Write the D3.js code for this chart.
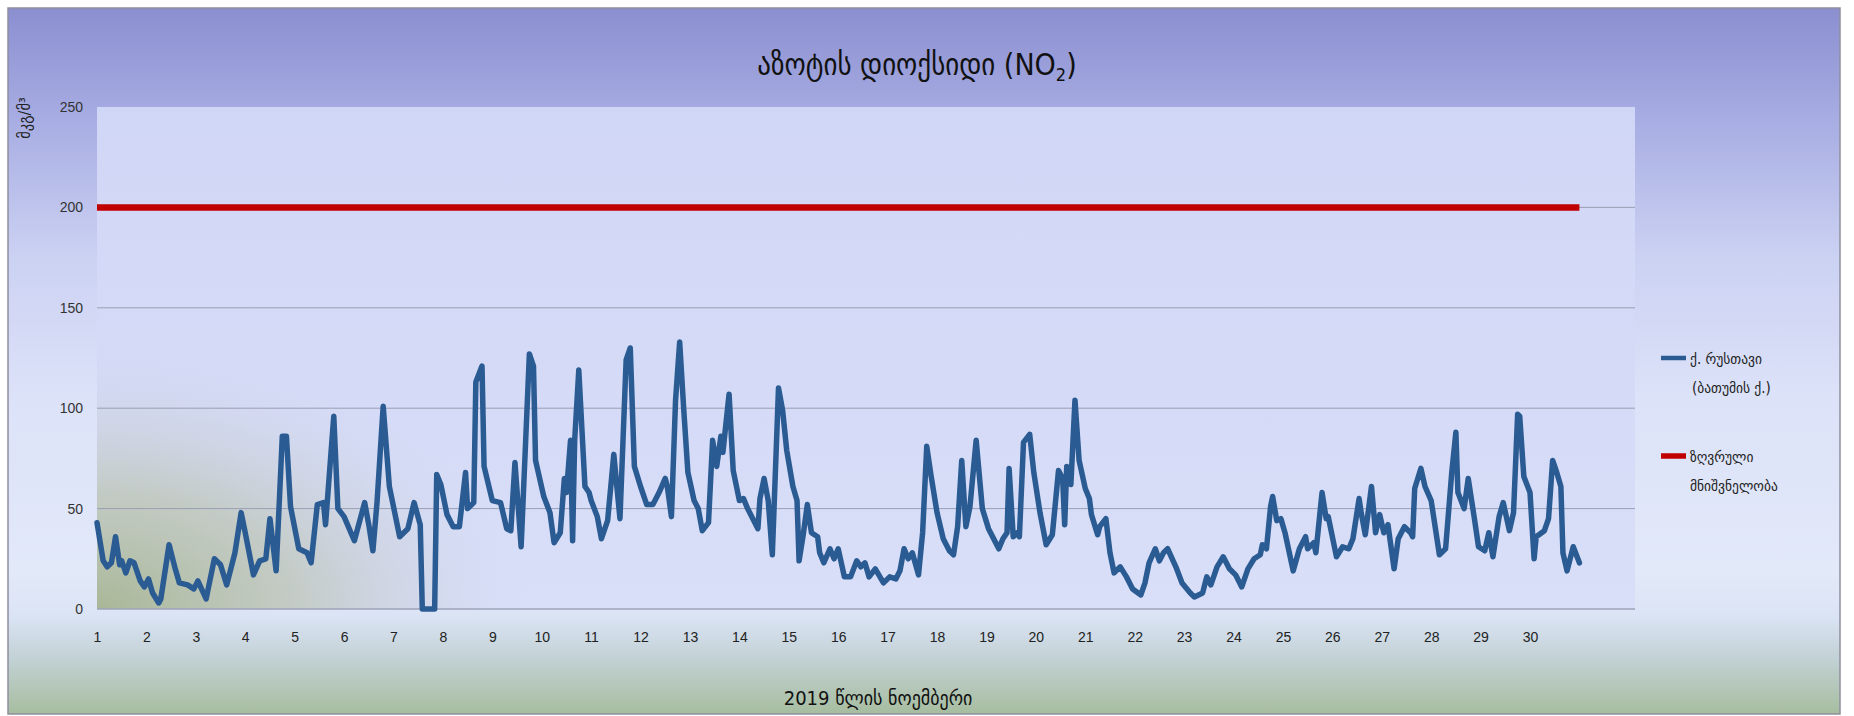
<!DOCTYPE html>
<meta charset="utf-8">
<script src="https://d3js.org/d3.v7.min.js"></script>
<style>
  body { margin: 0; background: #fff; }
  svg text { font-family: "DejaVu Sans Condensed", "DejaVu Sans", sans-serif; }
</style>
<div id="chart"></div>
<script>
// hours since 1 Nov 00:00 and NO2 readings (µg/m³)
const hours = [0,3,5,7,9,11,12,14,16,18,21,23,25,27,30,31,35,38,40,44,47,49,53,57,60,63,67,70,72,76,79,82,84,87,90,92,94,98,102,104,107,110,111,115,117,120,125,130,132,134,136,139,142,147,151,154,157,158,164,165,167,170,173,176,179,180,183,184,187,188,192,196,199,201,203,206,210,212,213,217,220,222,225,227,228,230,231,232,234,237,239,240,243,245,248,251,254,257,259,261,264,267,270,273,276,277,279,281,283,285,287,290,292,294,297,299,301,303,304,307,309,312,314,316,321,322,324,326,328,331,333,335,338,340,341,343,345,347,350,351,353,356,358,360,363,366,369,371,373,375,378,382,385,388,390,392,394,396,399,401,403,405,408,411,414,416,418,420,422,424,427,430,433,438,440,442,443,445,447,448,450,453,455,458,461,464,467,469,470,471,473,475,477,480,482,483,486,487,490,492,494,497,500,503,507,509,511,514,516,518,520,524,527,531,533,537,539,541,544,547,550,553,556,559,562,565,566,568,570,571,573,575,577,581,584,587,588,591,592,595,597,598,602,605,608,610,613,614,616,619,621,623,625,627,630,632,635,638,639,640,643,645,648,652,655,658,660,661,664,666,669,671,674,676,678,681,683,686,688,690,691,693,696,698,699,703,705,707,709,711,712,714,717,720];
const no2 = [43,24,21,23,36,22,24,18,24,23,14,11,15,8,3,5,32,20,13,12,10,14,5,25,22,12,28,48,38,17,24,25,45,19,86,86,51,30,28,23,52,53,42,96,50,46,34,53,42,29,53,101,61,36,40,53,42,0,0,67,62,47,41,41,68,50,53,113,121,71,54,53,40,39,73,31,127,121,74,56,48,33,38,65,58,84,34,84,119,61,58,54,46,35,44,77,45,124,130,71,61,52,52,58,65,61,46,104,133,99,68,54,50,39,43,84,71,86,78,107,69,54,55,50,40,55,65,54,27,110,99,79,61,54,24,37,52,38,36,28,23,30,25,30,16,16,24,21,23,16,20,13,16,15,19,30,25,28,17,38,81,67,48,35,29,27,41,74,41,51,84,50,40,30,35,38,70,36,38,36,83,87,68,48,32,37,69,65,42,71,62,104,74,60,55,47,37,41,45,28,18,21,16,10,7,13,23,30,24,28,30,21,13,8,6,8,16,12,21,26,20,17,11,20,25,27,32,30,51,56,44,45,38,19,30,36,30,33,28,58,45,46,26,31,30,35,55,48,37,61,38,47,38,42,20,35,41,38,36,60,70,61,54,27,30,68,88,58,50,65,45,31,29,38,26,46,53,39,48,97,96,66,58,25,36,39,45,74,68,61,28,19,31,23];

const limitHours = [0, 720];
const limitValues = [200, 200];

const dayLabels = ["1","2","3","4","5","6","7","8","9","10","11","12","13","14","15","16","17","18","19","20","21","22","23","24","25","26","27","28","29","30"];
const dayHours = [0,24,48,72,96,120,144,168,192,216,240,264,288,312,336,360,384,408,432,456,480,504,528,552,576,600,624,648,672,696];
const yTicks = [0, 50, 100, 150, 200, 250];

const W = 1854, H = 716;
const plot = { left: 97, right: 1635, top: 107, bottom: 609 };

const svg = d3.select("#chart").append("svg")
  .attr("width", W).attr("height", H);

const defs = svg.append("defs");

// outer background: purple at top, pale in the middle, green-grey at the bottom
const bg = defs.append("linearGradient").attr("id", "bg")
  .attr("x1", 0).attr("y1", 0).attr("x2", 0).attr("y2", 1);
[[0, "#8b8fd0"], [0.15, "#a6abe2"], [0.35, "#cbd1f2"], [0.55, "#dce2f8"],
 [0.8, "#e2e9f9"], [0.86, "#dbe4f5"], [0.92, "#c3d2d6"], [1, "#a7bd9f"]]
  .forEach(s => bg.append("stop").attr("offset", s[0]).attr("stop-color", s[1]));

const pg = defs.append("linearGradient").attr("id", "plotbg")
  .attr("x1", 0).attr("y1", 0).attr("x2", 0).attr("y2", 1);
pg.append("stop").attr("offset", 0).attr("stop-color", "#d0d6f5");
pg.append("stop").attr("offset", 1).attr("stop-color", "#d9dff8");

const rg = defs.append("radialGradient").attr("id", "corner")
  .attr("gradientUnits", "userSpaceOnUse")
  .attr("cx", plot.left).attr("cy", plot.bottom).attr("r", 430)
  .attr("gradientTransform", `translate(${plot.left},${plot.bottom}) scale(1,0.6) translate(${-plot.left},${-plot.bottom})`);
rg.append("stop").attr("offset", 0).attr("stop-color", "#a9b797").attr("stop-opacity", 1);
rg.append("stop").attr("offset", 0.45).attr("stop-color", "#bcc4b3").attr("stop-opacity", 0.75);
rg.append("stop").attr("offset", 1).attr("stop-color", "#cdd2e6").attr("stop-opacity", 0);

svg.append("rect")
  .attr("x", 8).attr("y", 8).attr("width", 1832).attr("height", 706)
  .attr("fill", "url(#bg)").attr("stroke", "#8d8f9e").attr("stroke-width", 1.5);

svg.append("rect")
  .attr("x", plot.left).attr("y", plot.top)
  .attr("width", plot.right - plot.left).attr("height", plot.bottom - plot.top)
  .attr("fill", "url(#plotbg)");
svg.append("rect")
  .attr("x", plot.left).attr("y", plot.top)
  .attr("width", plot.right - plot.left).attr("height", plot.bottom - plot.top)
  .attr("fill", "url(#corner)");

const x = d3.scaleLinear().domain([0, 747]).range([plot.left, plot.right]);
const y = d3.scaleLinear().domain([0, 250]).range([plot.bottom, plot.top]);

// gridlines
svg.append("g").selectAll("line")
  .data(yTicks.filter(d => d > 0 && d < 250))
  .join("line")
  .attr("x1", plot.left).attr("x2", plot.right)
  .attr("y1", d => y(d)).attr("y2", d => y(d))
  .attr("stroke", "#9a9fb4").attr("stroke-width", 1);

svg.append("line")
  .attr("x1", plot.left).attr("x2", plot.right)
  .attr("y1", y(0)).attr("y2", y(0))
  .attr("stroke", "#9ea3b9").attr("stroke-width", 1.5);

// y axis labels
const yAxis = svg.append("g")
  .attr("transform", `translate(${plot.left - 14},0)`)
  .call(d3.axisLeft(y).tickValues(yTicks).tickSize(0).tickPadding(0));
yAxis.select(".domain").remove();
yAxis.selectAll("text")
  .style("font-family", "'Liberation Sans', sans-serif")
  .style("font-size", "14px").attr("fill", "#333");

// x axis labels
const xAxis = svg.append("g")
  .attr("transform", `translate(0,${plot.bottom + 23})`)
  .call(d3.axisBottom(x).tickValues(dayHours).tickSize(0).tickPadding(0)
    .tickFormat((d, i) => dayLabels[i]));
xAxis.select(".domain").remove();
xAxis.selectAll("text")
  .style("font-family", "'Liberation Sans', sans-serif")
  .style("font-size", "14px").attr("fill", "#222");

// limit line
const limitLine = d3.line().x(d => x(d[0])).y(d => y(d[1]));
svg.append("path")
  .datum(limitHours.map((h, i) => [h, limitValues[i]]))
  .attr("d", limitLine)
  .attr("fill", "none").attr("stroke", "#c00000").attr("stroke-width", 6.5);

// measured series
const line = d3.line().x(d => x(d[0])).y(d => y(d[1]));
svg.append("path")
  .datum(hours.map((h, i) => [h, no2[i]]))
  .attr("d", line)
  .attr("fill", "none").attr("stroke", "#2b5b93")
  .attr("stroke-width", 5.5).attr("stroke-linejoin", "round").attr("stroke-linecap", "round");

// title
const title = svg.append("text")
  .attr("x", 917).attr("y", 75).attr("text-anchor", "middle")
  .style("font-size", "30px").attr("fill", "#111");
title.append("tspan").text("აზოტის დიოქსიდი (NO");
title.append("tspan").attr("font-size", "18px").attr("dy", 6).text("2");
title.append("tspan").attr("dy", -6).text(")");

// axis titles
svg.append("text")
  .attr("transform", "translate(30,118) rotate(-90)")
  .attr("text-anchor", "middle")
  .style("font-size", "16px").attr("fill", "#222")
  .text("მკგ/მ³");

svg.append("text")
  .attr("x", 878).attr("y", 705).attr("text-anchor", "middle")
  .style("font-size", "20px").attr("fill", "#111")
  .text("2019 წლის  ნოემბერი");

// legend
const legend = svg.append("g");
legend.append("line")
  .attr("x1", 1661).attr("x2", 1686).attr("y1", 358).attr("y2", 358)
  .attr("stroke", "#2b5b93").attr("stroke-width", 4.5);
legend.append("text").attr("x", 1690).attr("y", 364)
  .style("font-size", "15px").attr("fill", "#222").text("ქ. რუსთავი");
legend.append("text").attr("x", 1692).attr("y", 393)
  .style("font-size", "15px").attr("fill", "#222").text("(ბათუმის ქ.)");
legend.append("line")
  .attr("x1", 1661).attr("x2", 1686).attr("y1", 456).attr("y2", 456)
  .attr("stroke", "#c00000").attr("stroke-width", 5.5);
legend.append("text").attr("x", 1690).attr("y", 462)
  .style("font-size", "15px").attr("fill", "#222").text("ზღვრული");
legend.append("text").attr("x", 1690).attr("y", 491)
  .style("font-size", "15px").attr("fill", "#222").text("მნიშვნელობა");
</script>
